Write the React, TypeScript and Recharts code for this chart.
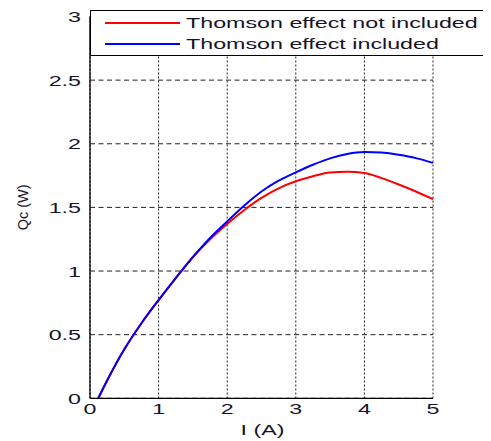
import React from "react";
import { LineChart, Line, XAxis, YAxis, CartesianGrid } from "recharts";

const currents = [0.12, 0.25, 0.5, 0.75, 1, 1.25, 1.5, 1.75, 2, 2.25, 2.5, 2.75, 3, 3.25, 3.5, 3.75, 4, 4.25, 4.5, 4.75, 5];
const notIncluded = [0, 0.14, 0.385, 0.59, 0.772, 0.945, 1.11, 1.25, 1.37, 1.48, 1.575, 1.65, 1.705, 1.745, 1.775, 1.78, 1.77, 1.73, 1.68, 1.625, 1.565];
const included = [0, 0.14, 0.385, 0.59, 0.772, 0.945, 1.11, 1.26, 1.39, 1.515, 1.625, 1.71, 1.775, 1.835, 1.885, 1.92, 1.935, 1.932, 1.913, 1.887, 1.85];
const xTicks = [0, 1, 2, 3, 4, 5];
const yTicks = [0, 0.5, 1, 1.5, 2, 2.5, 3];
const seriesNames = ["Thomson effect not included", "Thomson effect included"];
const seriesColors = ["#ff0000", "#0000ff"];

const data = currents.map((I, i) => ({ I, notIncluded: notIncluded[i], included: included[i] }));

const FONT = "'Liberation Sans', Arial, sans-serif";
const SX = 1.55;
const TXT = "#15152a";

const XTick = (props: any) => {
  const { x, y, payload } = props;
  return (
    <text transform={`translate(${x},${y + 16}) scale(${SX},1)`} textAnchor="middle" fontSize={15} fontFamily={FONT} fill={TXT}>
      {payload.value}
    </text>
  );
};

const YTick = (props: any) => {
  const { x, y, payload } = props;
  return (
    <text transform={`translate(${x - 9},${y + 5.5}) scale(${SX},1)`} textAnchor="end" fontSize={15} fontFamily={FONT} fill={TXT}>
      {payload.value}
    </text>
  );
};

const XLabel = (props: any) => {
  const vb = props.viewBox || {};
  return (
    <text transform={`translate(${vb.x + vb.width / 2 + 1},${vb.y + 37}) scale(${SX},1)`} textAnchor="middle" fontSize={15} fontFamily={FONT} fill={TXT}>
      I (A)
    </text>
  );
};

const YLabel = (props: any) => {
  const vb = props.viewBox || {};
  const cx = vb.x - 7 + 5;
  const cy = vb.y + vb.height / 2;
  return (
    <text transform={`translate(${cx},${cy}) rotate(-90)`} textAnchor="middle" fontSize={14.5} fontFamily={FONT} fill={TXT}>
      Qc (W)
    </text>
  );
};

export default function App() {
  return (
    <div style={{ position: "relative", width: 483, height: 433 }}>
      <LineChart width={483} height={433} data={data} margin={{ top: 8.5, right: 58, bottom: 12.7, left: 22 }}>
        <CartesianGrid horizontal={true} vertical={false} stroke="#222" strokeDasharray="5 3.5" />
        <CartesianGrid horizontal={false} vertical={true} stroke="#222" strokeDasharray="2 2" />
        <XAxis
          dataKey="I"
          type="number"
          domain={[0, 5]}
          ticks={xTicks}
          tickSize={0}
          tickMargin={0}
          tickLine={false}
          axisLine={{ stroke: "#000", strokeWidth: 1.3 }}
          height={30}
          tick={<XTick />}
          label={<XLabel />}
          interval={0}
        />
        <YAxis
          type="number"
          domain={[0, 3]}
          ticks={yTicks}
          tickSize={0}
          tickMargin={0}
          tickLine={false}
          axisLine={{ stroke: "#000", strokeWidth: 1.3 }}
          width={60}
          tick={<YTick />}
          label={<YLabel />}
          interval={0}
        />
        <YAxis
          yAxisId="right"
          orientation="right"
          type="number"
          domain={[0, 3]}
          width={0}
          tick={false}
          tickLine={false}
          axisLine={{ stroke: "#000", strokeWidth: 1.3 }}
        />
        <Line dataKey="notIncluded" stroke={seriesColors[0]} strokeWidth={2} dot={false} type="monotone" isAnimationActive={false} />
        <Line dataKey="included" stroke={seriesColors[1]} strokeWidth={2} dot={false} type="monotone" isAnimationActive={false} />
      </LineChart>
      <div
        style={{
          position: "absolute",
          left: 82,
          top: 2,
          width: 401,
          height: 46,
          background: "#fff",
          borderTop: "1.3px solid #000",
          borderLeft: "1.3px solid #000",
          borderBottom: "1.3px solid #000",
          boxSizing: "border-box",
        }}
      >
        {seriesNames.map((name, i) => (
          <div key={name} style={{ position: "absolute", left: 0, top: i === 0 ? 12 : 33, width: 401 }}>
            <div style={{ position: "absolute", left: 14, top: -1, width: 75, height: 2, background: seriesColors[i] }} />
            <div
              style={{
                position: "absolute",
                left: 95,
                top: -9,
                fontFamily: FONT,
                fontSize: 15,
                lineHeight: "17px",
                color: TXT,
                whiteSpace: "nowrap",
                transform: `scaleX(${SX})`,
                transformOrigin: "left center",
              }}
            >
              {name}
            </div>
          </div>
        ))}
      </div>
    </div>
  );
}
